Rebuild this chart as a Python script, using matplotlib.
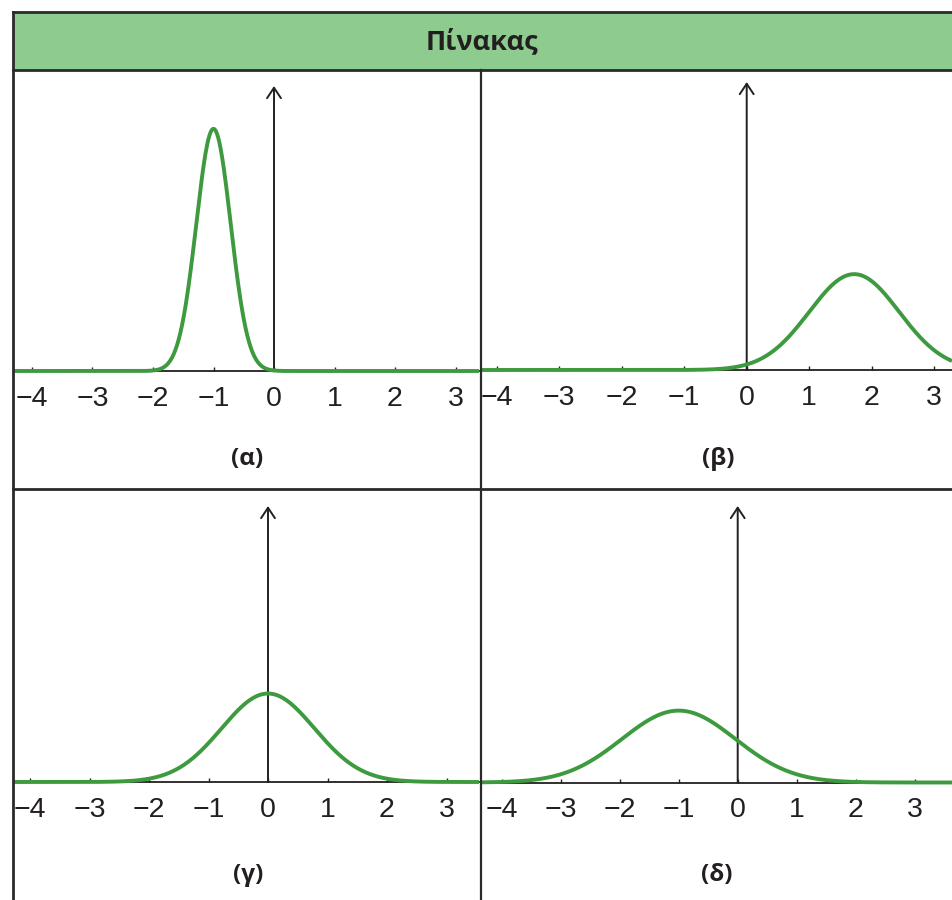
import numpy as np
import matplotlib
matplotlib.use("Agg")
import matplotlib.pyplot as plt
from matplotlib.patches import Rectangle
from matplotlib.lines import Line2D

# ---------------- data ----------------
title = "Πίνακας"
panel_labels = ["(α)", "(β)", "(γ)", "(δ)"]
means = [-1.0, 1.72, 0.0, -1.0]
sds = [0.285, 0.72, 0.78, 0.96]
xticks = [-4, -3, -2, -1, 0, 1, 2, 3]
xtick_labels = ["\u22124", "\u22123", "\u22122", "\u22121", "0", "1", "2", "3"]

# ---------------- layout (pixels) ----------------
W, H = 952, 900
fig = plt.figure(figsize=(W / 100, H / 100), dpi=100)
fig.patch.set_facecolor("white")

def fx(px):
    return px / W

def fy(py):
    return 1 - py / H

# panel boxes: left, right, top, bottom (px)
boxes = [(14, 479, 71, 487), (482, 952, 71, 487),
         (14, 479, 490, 900), (482, 952, 490, 900)]
zero_px = [274, 746.7, 268, 737.7]
unit_px = [60.5, 62.5, 59.5, 59.0]
base_px = [371, 370, 782, 782.5]
arrow_top_px = [86, 82, 506, 506]
label_pos = [(247, 459), (718, 459), (248, 875), (717, 875)]
yscale = 173.0  # px per density unit

curve_color = "#3d9a3e"
ink = "#231f20"
font = ["Liberation Sans", "DejaVu Sans"]
bold_font = ["Open Sans", "DejaVu Sans"]

for i, (l, r, t, b) in enumerate(boxes):
    ax = fig.add_axes([fx(l), fy(b), fx(r) - fx(l), fy(t) - fy(b)])
    ax.set_facecolor("none")
    xmin = (l - zero_px[i]) / unit_px[i]
    xmax = (r - zero_px[i]) / unit_px[i]
    ymin = (base_px[i] - b) / yscale
    ymax = (base_px[i] - t) / yscale
    ax.set_xlim(xmin, xmax)
    ax.set_ylim(ymin, ymax)

    x = np.linspace(xmin, xmax, 800)
    m, s = means[i], sds[i]
    y = np.exp(-0.5 * ((x - m) / s) ** 2) / (s * np.sqrt(2 * np.pi))
    ax.plot(x, y, color=curve_color, lw=2.8, zorder=5, solid_capstyle="butt")

    for sp in ["top", "right", "left"]:
        ax.spines[sp].set_visible(False)
    ax.spines["bottom"].set_position(("data", 0))
    ax.spines["bottom"].set_color(ink)
    ax.spines["bottom"].set_linewidth(1.3)
    ax.set_yticks([])
    ax.set_xticks(xticks)
    ax.set_xticklabels(xtick_labels, family=font, fontsize=20.5, color=ink)
    ax.tick_params(axis="x", direction="in", length=3, width=1.0,
                   color=ink, pad=10.5)

    ytop = (base_px[i] - arrow_top_px[i]) / yscale
    ax.annotate("", xy=(0, ytop), xytext=(0, 0),
                arrowprops=dict(arrowstyle="->,head_length=0.75,head_width=0.5",
                                color=ink, lw=1.4, shrinkA=0, shrinkB=0),
                zorder=4)

    lx, ly = label_pos[i]
    fig.text(fx(lx), fy(ly), panel_labels[i], ha="center", va="center",
             family=bold_font, fontsize=17.5, fontweight="bold", color=ink)

# header
fig.add_artist(Rectangle((fx(13), fy(69.5)), fx(952) - fx(13), fy(11.5) - fy(69.5),
                         facecolor="#8dcb8f", edgecolor="none", zorder=0.5))
fig.text(fx(482), fy(42), title, ha="center", va="center", family=bold_font,
         fontsize=19.5, fontweight="bold", color=ink)

border = "#2a2a2a"
def hline(py, x0, x1, lw):
    fig.add_artist(Line2D([fx(x0), fx(x1)], [fy(py), fy(py)], color=border,
                          lw=lw, zorder=10, solid_capstyle="projecting"))

def vline(px, y0, y1, lw):
    fig.add_artist(Line2D([fx(px), fx(px)], [fy(y0), fy(y1)], color=border,
                          lw=lw, zorder=10, solid_capstyle="projecting"))

hline(11.5, 13, 952, 2.0)
hline(69.5, 13, 952, 2.0)
hline(488.5, 13, 952, 2.0)
vline(13, 11.5, 900, 2.0)
vline(480.5, 69.5, 900, 1.6)

fig.savefig("out.png", dpi=100)
